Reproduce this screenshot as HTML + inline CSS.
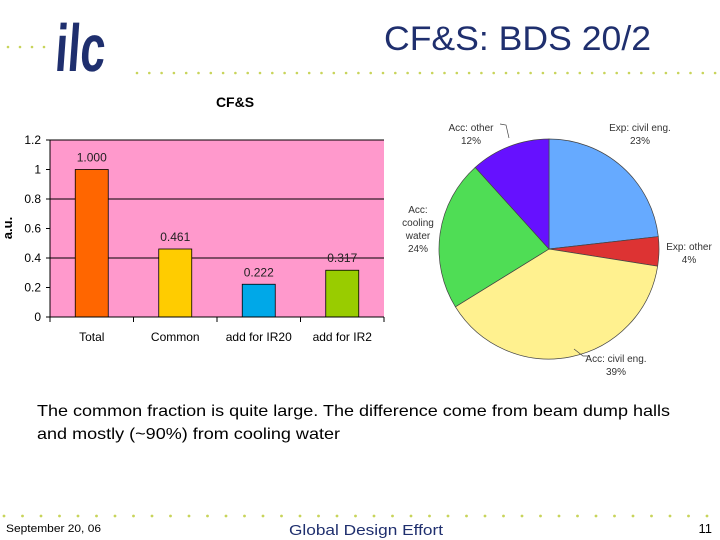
<!DOCTYPE html>
<html><head><meta charset="utf-8"><style>
body{margin:0;width:720px;height:540px;background:#fff;overflow:hidden;font-family:"Liberation Sans",sans-serif}
svg{position:absolute;left:0;top:0}
</style></head><body>
<svg width="720" height="540">
<g>
 <g id="dotsTop" fill="#c8d45a"></g>
 <text x="0" y="0" font-size="46" font-weight="bold" fill="#1f2f6e" transform="translate(54,71) scale(1,1.45) skewX(-6)" textLength="50" lengthAdjust="spacingAndGlyphs">ilc</text>
 <text x="384" y="50" font-size="34" fill="#1f2f6e" textLength="267" lengthAdjust="spacingAndGlyphs">CF&amp;S: BDS 20/2</text>
</g>
<g id="bar"></g>
<g id="pie"></g>
<text x="37" y="416" font-size="16" fill="#000" textLength="633" lengthAdjust="spacingAndGlyphs">The common fraction is quite large. The difference come from beam dump halls</text>
<text x="37" y="439" font-size="16" fill="#000" textLength="303" lengthAdjust="spacingAndGlyphs">and mostly (~90%) from cooling water</text>
<g id="dotsBot" fill="#c8d45a"></g>
<text x="6" y="532" font-size="11" fill="#000" textLength="95" lengthAdjust="spacingAndGlyphs">September 20, 06</text>
<text x="289" y="535" font-size="15" fill="#1f2f6e" textLength="154" lengthAdjust="spacingAndGlyphs">Global Design Effort</text>
<text x="712" y="533" text-anchor="end" font-size="13" fill="#000">11</text>
</svg>
<script>
const categories=["Total","Common","add for IR20","add for IR2"];
const values=[1.000,0.461,0.222,0.317];
const valueLabels=["1.000","0.461","0.222","0.317"];
const barColors=["#ff6600","#ffcc00","#00a8e8","#99cc00"];
const yTicks=[0,0.2,0.4,0.6,0.8,1,1.2];
const yTickLabels=["0","0.2","0.4","0.6","0.8","1","1.2"];
const pieLabels=[["Exp: civil eng.","23%"],["Exp: other","4%"],["Acc: civil eng.","39%"],["Acc:","cooling","water","24%"],["Acc: other","12%"]];
const pieValues=[23.2,4.3,38.7,22.1,11.7];
const pieColors=["#66aaff","#dd3333","#fff18f","#4fdd55","#6611ff"];
const NS="http://www.w3.org/2000/svg";
function mk(t,a,p){const e=document.createElementNS(NS,t);for(const k in a)e.setAttribute(k,a[k]);p.appendChild(e);return e;}
const dt=document.getElementById('dotsTop');
for(let x=8;x<50;x+=12){const c=mk('circle',{cx:x,cy:47,r:1.3},dt);}
for(let x=137;x<720;x+=12.3){const c=mk('circle',{cx:x,cy:73,r:1.3},dt);}
const db=document.getElementById('dotsBot');
for(let x=4;x<720;x+=18.5){const c=mk('circle',{cx:x,cy:516,r:1.4},db);}
const g=document.getElementById('bar');
const L=50,R=384,T=140,B=317,ymax=1.2;
const y=v=>B-(v/ymax)*(B-T);
const cw=(R-L)/categories.length;
const xc=i=>L+cw*(i+0.5);
let e=mk('rect',{x:L,y:T,width:R-L,height:B-T,fill:"#ff99cc"},g);

e=mk('text',{x:235,y:107,'font-size':14,'font-weight':'bold','text-anchor':'middle'},g);e.textContent="CF&S";

[0.4,0.8,1.2].forEach(v=>{const l=mk('line',{x1:L,x2:R,y1:y(v),y2:y(v),stroke:"#000","stroke-width":1},g);});
yTicks.forEach((v,i)=>{
 const l=mk('line',{x1:L-4,x2:L,y1:y(v),y2:y(v),stroke:"#000"},g);
 const t=mk('text',{x:L-9,y:y(v)+4,'font-size':12,'text-anchor':'end'},g);t.textContent=yTickLabels[i];
});
e=mk('text',{x:12,y:228,'font-size':13,'font-weight':'bold','text-anchor':'middle',transform:'rotate(-90 12 228)'},g);e.textContent="a.u.";

const bw=33;
values.forEach((v,i)=>{
 const r=mk('rect',{x:xc(i)-bw/2,y:y(v),width:bw,height:B-y(v),fill:barColors[i],stroke:"#000","stroke-width":0.8},g);
 
 const t=mk('text',{x:xc(i),y:y(v)-8,'font-size':12,'text-anchor':'middle',fill:'#222'},g);t.textContent=valueLabels[i];
 
 const c=mk('text',{x:xc(i),y:341,'font-size':12,'text-anchor':'middle'},g);c.textContent=categories[i];
 
});
for(let i=0;i<=categories.length;i++){const l=mk('line',{x1:L+cw*i,x2:L+cw*i,y1:B,y2:B+5,stroke:"#000"},g);}
e=mk('line',{x1:L,x2:R,y1:B,y2:B,stroke:"#000"},g);
e=mk('line',{x1:L,x2:L,y1:T,y2:B,stroke:"#000"},g);
const p=document.getElementById('pie');
const cx=549,cy=249,rad=110;
const tot=100;
let a0=0;
const lblPos=[[640,131,'middle'],[689,250,'middle'],[616,362,'middle'],[418,213,'middle'],[471,131,'middle']];
pieValues.forEach((v,i)=>{
 const a1=a0+v/tot*2*Math.PI;
 const x0=cx+rad*Math.sin(a0),y0=cy-rad*Math.cos(a0),x1=cx+rad*Math.sin(a1),y1=cy-rad*Math.cos(a1);
 const s=mk('path',{d:`M${cx},${cy}L${x0},${y0}A${rad},${rad} 0 ${a1-a0>Math.PI?1:0} 1 ${x1},${y1}Z`,fill:pieColors[i],stroke:"#444","stroke-width":0.7},p);
 
 const [lx,ly,an]=lblPos[i];
 pieLabels[i].forEach((ln,j)=>{const t=mk('text',{x:lx,y:ly+j*13,'font-size':10,'text-anchor':an,fill:'#333'},p);t.textContent=ln;});
 a0=a1;
});
e=mk('path',{d:"M500,124 L506,125 L509,138",fill:"none",stroke:"#444","stroke-width":0.7},p);
e=mk('path',{d:"M574,349 L583,356 L590,356",fill:"none",stroke:"#444","stroke-width":0.7},p);
</script>
</body></html>
